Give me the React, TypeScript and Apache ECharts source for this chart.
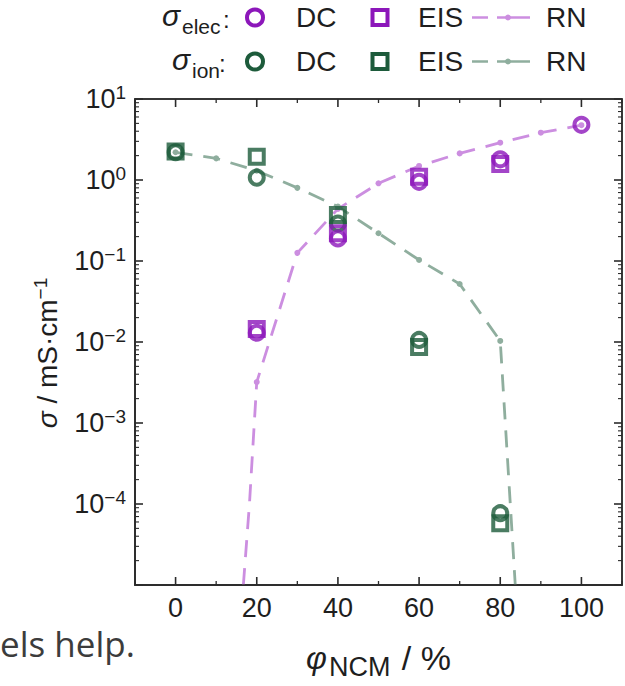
import React, { useEffect, useRef } from 'react';
import * as echarts from 'echarts';

// ---------- data (σ in mS/cm, x in % NCM) ----------
const xTicks = [0, 20, 40, 60, 80, 100];
const xMinorTicks = [-10, 10, 30, 50, 70, 90, 110];
const yExponentsLabelled = [-4, -3, -2, -1, 0, 1];
const yExponentsAll = [-5, -4, -3, -2, -1, 0, 1];

const elecDcX = [20, 40, 60, 80, 100];
const elecDcY = [0.013, 0.19, 0.95, 1.8, 4.8];
const elecEisX = [20, 40, 60, 80];
const elecEisY = [0.0145, 0.22, 1.1, 1.58];
const ionDcX = [0, 20, 40, 60, 80];
const ionDcY = [2.2, 1.07, 0.29, 0.0106, 7.7e-5];
const ionEisX = [0, 20, 40, 60, 80];
const ionEisY = [2.25, 1.94, 0.37, 0.0087, 5.8e-5];
const elecRnX = [16.7, 18.2, 20, 30, 40, 50, 60, 70, 80, 90, 100];
const elecRnY = [1e-5, 1e-4, 3.2e-3, 0.126, 0.44, 0.91, 1.49, 2.13, 2.89, 3.84, 4.75];
const ionRnX = [0, 10, 20, 30, 40, 50, 60, 70, 80, 83.7];
const ionRnY = [2.2, 1.85, 1.3, 0.8, 0.47, 0.22, 0.103, 0.052, 0.0103, 1e-5];

// ---------- styles ----------
const FONT = '"Liberation Sans", Arial, sans-serif';
const TXT = '#1e1e1e';
const AX = '#2b2b2b';
const PURPLE = '#8C17BA';
const PURPLE_L = '#CC8EE0';
const GREEN = '#1D5B3B';
const GREEN_L = '#8FAE9E';

const X_MIN = -10;
const X_MAX = 110;
const Y_MIN = -5;
const Y_MAX = 1;

const minorY: number[] = [];
for (let n = Y_MIN; n < Y_MAX; n++) for (let k = 2; k <= 9; k++) minorY.push(n + Math.log10(k));

const pts = (xs: number[], ys: number[]) => xs.map((x, i) => [x, Math.log10(ys[i])]);
const rnPts = (xs: number[], ys: number[]) =>
  xs.map((x, i) => ({ value: [x, Math.log10(ys[i])], symbol: x % 10 === 0 ? 'circle' : 'none' }));

const supText = (v: number) => {
  const r = Math.round(v);
  return r < 0 ? '\u2212' + Math.abs(r) : String(r);
};

// frame + tick table: [value, length, kind (0 = x tick, 1 = y tick, 2 = frame), width]
const tickRows: number[][] = [
  [0, 0, 2, 1.5],
  ...xTicks.map((v) => [v, 8, 0, 1.6]),
  ...xMinorTicks.map((v) => [v, 4, 0, 1.3]),
  ...yExponentsAll.map((v) => [v, 8, 1, 1.6]),
  ...minorY.map((v) => [v, 4, 1, 1.1]),
];

function renderTick(params: any, api: any) {
  const v = api.value(0);
  const len = api.value(1);
  const kind = api.value(2);
  const w = api.value(3);
  const style = { stroke: AX, lineWidth: w, fill: 'none' };
  if (kind === 2) {
    const tl = api.coord([X_MIN, Y_MAX]);
    const br = api.coord([X_MAX, Y_MIN]);
    return {
      type: 'rect',
      shape: { x: tl[0], y: tl[1], width: br[0] - tl[0], height: br[1] - tl[1] },
      style,
    };
  }
  if (kind === 0) {
    const b = api.coord([v, Y_MIN]);
    const t = api.coord([v, Y_MAX]);
    return {
      type: 'group',
      children: [
        { type: 'line', shape: { x1: b[0], y1: b[1], x2: b[0], y2: b[1] - len }, style },
        { type: 'line', shape: { x1: t[0], y1: t[1], x2: t[0], y2: t[1] + len }, style },
      ],
    };
  }
  const l = api.coord([X_MIN, v]);
  const r = api.coord([X_MAX, v]);
  return {
    type: 'group',
    children: [
      { type: 'line', shape: { x1: l[0], y1: l[1], x2: l[0] + len, y2: l[1] }, style },
      { type: 'line', shape: { x1: r[0], y1: r[1], x2: r[0] - len, y2: r[1] }, style },
    ],
  };
}

function buildOption() {
  const scatter = (name: string, xs: number[], ys: number[], symbol: string, color: string) => ({
    name, type: 'scatter', z: 4, clip: false,
    symbol, symbolSize: 14,
    itemStyle: { color: 'rgba(255,255,255,0)', borderColor: color, borderWidth: 4 },
    data: pts(xs, ys),
  });
  const rn = (name: string, xs: number[], ys: number[], color: string) => ({
    name, type: 'line', z: 3, clip: false,
    symbol: 'circle', symbolSize: 6, showSymbol: true,
    itemStyle: { color },
    lineStyle: { color, width: 2.8, type: [17, 11] },
    data: rnPts(xs, ys),
  });

  const legendRow = (y: number, sub: string, sigmaX: number, subX: number, colonX: number,
    mark: string, light: string) => [
    { type: 'text', x: sigmaX, y: y - 2, style: { text: 'σ', font: `italic 30px ${FONT}`, fill: TXT, textAlign: 'left', textVerticalAlign: 'middle' } },
    { type: 'text', x: subX, y: y + 9, style: { text: sub, font: `21px ${FONT}`, fill: TXT, textAlign: 'left', textVerticalAlign: 'middle' } },
    { type: 'text', x: colonX, y: y + 2, style: { text: ':', font: `24px ${FONT}`, fill: TXT, textAlign: 'left', textVerticalAlign: 'middle' } },
    { type: 'circle', shape: { cx: 255, cy: y, r: 8 }, style: { fill: 'none', stroke: mark, lineWidth: 4 } },
    { type: 'text', x: 296, y, style: { text: 'DC', font: `28px ${FONT}`, fill: TXT, textAlign: 'left', textVerticalAlign: 'middle' } },
    { type: 'rect', shape: { x: 372.5, y: y - 7.5, width: 15, height: 15 }, style: { fill: 'none', stroke: mark, lineWidth: 4 } },
    { type: 'text', x: 418, y, style: { text: 'EIS', font: `28px ${FONT}`, fill: TXT, textAlign: 'left', textVerticalAlign: 'middle' } },
    { type: 'line', shape: { x1: 472, y1: y, x2: 488, y2: y }, style: { stroke: light, lineWidth: 2.5 } },
    { type: 'line', shape: { x1: 497, y1: y, x2: 530, y2: y }, style: { stroke: light, lineWidth: 2.5 } },
    { type: 'circle', shape: { cx: 508, cy: y, r: 3 }, style: { fill: light } },
    { type: 'text', x: 546, y, style: { text: 'RN', font: `28px ${FONT}`, fill: TXT, textAlign: 'left', textVerticalAlign: 'middle' } },
  ];

  return {
    animation: false,
    grid: {
      left: 135, top: 99, width: 487, height: 486,
      show: true, borderColor: AX, borderWidth: 1.5,
    },
    xAxis: {
      type: 'value', min: X_MIN, max: X_MAX, interval: 10,
      splitLine: { show: false },
      axisLine: { show: true, onZero: false, lineStyle: { color: AX, width: 1.5 } },
      axisTick: { show: false },
      axisLabel: { show: true, customValues: xTicks, margin: 9, fontSize: 27, fontFamily: FONT, color: TXT },
      name: '{g|φ}{sub|NCM}{t| / %}',
      nameLocation: 'middle',
      nameGap: 50,
      nameTextStyle: {
        rich: {
          g: { fontSize: 32, fontStyle: 'italic', fontFamily: FONT, color: TXT, padding: [0, 2, 0, 0] },
          sub: { fontSize: 27, fontFamily: FONT, color: TXT, padding: [18, 2, 0, 0] },
          t: { fontSize: 34, fontFamily: FONT, color: TXT },
        },
      },
    },
    yAxis: {
      type: 'value', min: Y_MIN, max: Y_MAX, interval: 1,
      splitLine: { show: false },
      axisLine: { show: true, onZero: false, lineStyle: { color: AX, width: 1.5 } },
      axisTick: { show: false },
      axisLabel: {
        show: true,
        customValues: yExponentsLabelled,
        margin: 9,
        formatter: (v: number) => `{m|10}{s|${supText(v)}}`,
        rich: {
          m: { fontSize: 27, fontFamily: FONT, color: TXT },
          s: { fontSize: 19, fontFamily: FONT, color: TXT, padding: [0, 0, 14, 0] },
        },
      },
      name: '{g|σ}{t| / mS·cm}{s|\u22121}',
      nameLocation: 'middle',
      nameRotate: 90,
      nameGap: 71,
      nameTextStyle: {
        padding: [0, 22, 0, 0],
        rich: {
          g: { fontSize: 28, fontStyle: 'italic', fontFamily: FONT, color: TXT },
          t: { fontSize: 28, fontFamily: FONT, color: TXT },
          s: { fontSize: 19, fontFamily: FONT, color: TXT, padding: [0, 0, 14, 0] },
        },
      },
    },
    graphic: {
      elements: [
        ...legendRow(17.5, 'elec', 162, 182, 223, PURPLE, PURPLE_L),
        ...legendRow(61.5, 'ion', 172, 192, 219, GREEN, GREEN_L),
        { type: 'text', x: 0, y: 643, style: { text: 'els help.', font: '35px "Open Sans", sans-serif', fill: '#3c3c3c', textAlign: 'left', textVerticalAlign: 'middle' } },
      ],
    },
    series: [
      rn('σelec RN', elecRnX, elecRnY, PURPLE_L),
      rn('σion RN', ionRnX, ionRnY, GREEN_L),
      scatter('σion DC', ionDcX, ionDcY, 'circle', GREEN),
      scatter('σion EIS', ionEisX, ionEisY, 'rect', GREEN),
      scatter('σelec DC', elecDcX, elecDcY, 'circle', PURPLE),
      scatter('σelec EIS', elecEisX, elecEisY, 'rect', PURPLE),
      {
        name: 'frame', type: 'custom', clip: false, z: 10,
        renderItem: renderTick,
        encode: { x: 0 },
        data: tickRows,
      },
    ],
  };
}

export default function App() {
  const ref = useRef<HTMLDivElement>(null);
  useEffect(() => {
    if (!ref.current) return;
    const chart = echarts.init(ref.current, undefined, { renderer: 'svg' });
    chart.setOption(buildOption() as any);
    return () => chart.dispose();
  }, []);
  return (
    <div
      ref={ref}
      style={{ position: 'fixed', left: 0, top: 0, width: 625, height: 686, background: '#fff' }}
    />
  );
}
